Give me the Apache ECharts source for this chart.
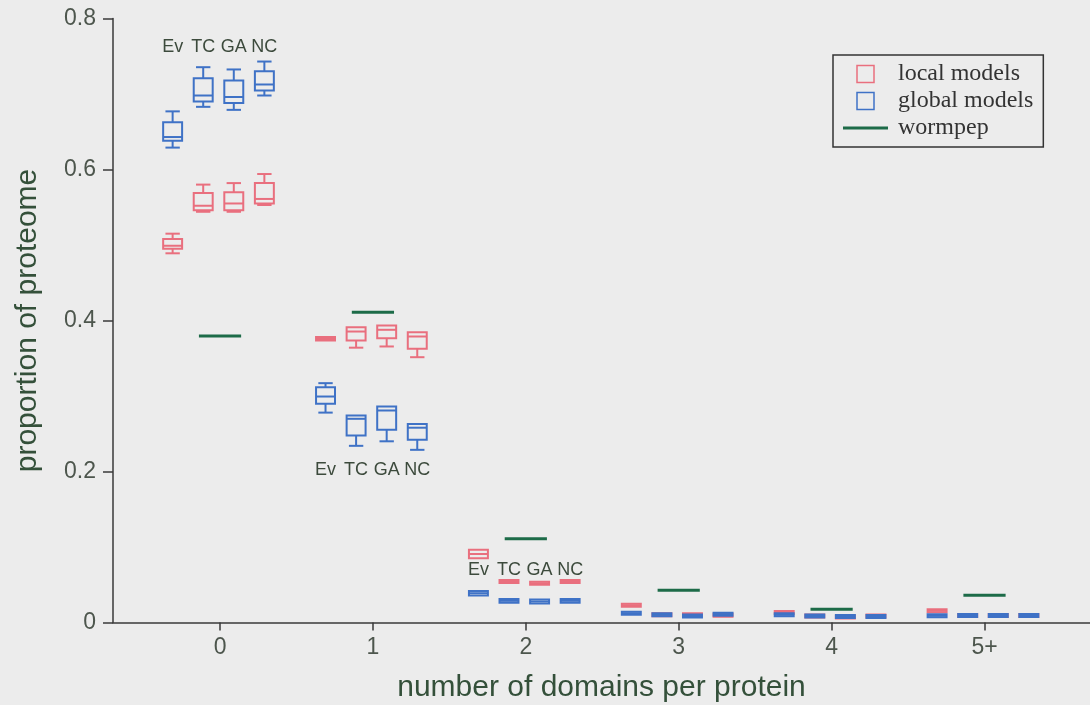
<!DOCTYPE html>
<html>
<head>
<meta charset="utf-8">
<script src="https://cdn.jsdelivr.net/npm/echarts@6/dist/echarts.min.js"></script>
<style>
html,body{margin:0;padding:0;background:#ececec;}
#chart{width:1090px;height:705px;}
</style>
</head>
<body>
<div id="chart"></div>
<script>
// ---------------- data ----------------
const categories = ['0', '1', '2', '3', '4', '5+'];
const models = ['Ev', 'TC', 'GA', 'NC'];

// each entry: [low whisker, q1, median, q3, high whisker], one per category
const localEv = [[0.489,0.495,0.499,0.508,0.515],[0.3735,0.3735,0.3755,0.378,0.378],[0.0852,0.0852,0.0907,0.0963,0.0963],[0.0209,0.0209,0.0229,0.0249,0.0249],[0.0112,0.0112,0.0132,0.0152,0.0152],[0.0135,0.0135,0.0155,0.0175,0.0175]];
const localTC = [[0.544,0.546,0.552,0.569,0.580],[0.364,0.3735,0.3854,0.391,0.391],[0.0523,0.0523,0.0543,0.0563,0.0563],[0.0082,0.0082,0.0102,0.0122,0.0122],[0.0066,0.0066,0.0086,0.0106,0.0106],[0.0073,0.0073,0.0093,0.0113,0.0113]];
const localGA = [[0.544,0.546,0.555,0.570,0.582],[0.3656,0.3766,0.3877,0.3934,0.3934],[0.050,0.050,0.052,0.054,0.054],[0.0082,0.0082,0.0102,0.0122,0.0122],[0.0053,0.0053,0.0073,0.0093,0.0093],[0.0073,0.0073,0.0093,0.0113,0.0113]];
const localNC = [[0.553,0.555,0.561,0.582,0.594],[0.3514,0.3625,0.3788,0.3845,0.3845],[0.0523,0.0523,0.0543,0.0563,0.0563],[0.0077,0.0077,0.0097,0.0117,0.0117],[0.0066,0.0066,0.0086,0.0106,0.0106],[0.0073,0.0073,0.0093,0.0113,0.0113]];

const globalEv = [[0.629,0.638,0.643,0.6627,0.677],[0.278,0.2897,0.2993,0.3117,0.317],[0.0358,0.0358,0.0388,0.0418,0.0418],[0.0103,0.0103,0.0123,0.0143,0.0143],[0.0082,0.0082,0.0102,0.0122,0.0122],[0.0069,0.0069,0.0089,0.0109,0.0109]];
const globalTC = [[0.683,0.690,0.698,0.721,0.7355],[0.234,0.2477,0.2698,0.2742,0.2742],[0.0262,0.0262,0.0287,0.0312,0.0312],[0.0082,0.0082,0.0102,0.0122,0.0122],[0.0066,0.0066,0.0086,0.0106,0.0106],[0.0073,0.0073,0.0093,0.0113,0.0113]];
const globalGA = [[0.679,0.688,0.696,0.718,0.7325],[0.240,0.2552,0.2808,0.286,0.286],[0.0253,0.0253,0.0278,0.0303,0.0303],[0.0066,0.0066,0.0086,0.0106,0.0106],[0.006,0.006,0.008,0.010,0.010],[0.0073,0.0073,0.0093,0.0113,0.0113]];
const globalNC = [[0.698,0.7046,0.7126,0.730,0.743],[0.2287,0.242,0.258,0.263,0.263],[0.0262,0.0262,0.0287,0.0312,0.0312],[0.009,0.009,0.011,0.013,0.013],[0.006,0.006,0.008,0.010,0.010],[0.0073,0.0073,0.0093,0.0113,0.0113]];

const wormpep = [0.3795, 0.411, 0.111, 0.0428, 0.0176, 0.0362];

// model labels are printed over/under these categories at these heights
const labelCategories = [0, 1, 2];
const labelHeights = [0.762, 0.202, 0.0695];

// ---------------- layout / style ----------------
const RED = '#e96f7e';
const BLUE = '#3f72c6';
const GREEN = '#1d6b48';
const OFFSETS = [-0.31, -0.11, 0.09, 0.29];
const BOX_HALF = 0.062;
const CAP_HALF = 0.047;
const WORM_HALF = 0.138;

function boxData(sets) {
  const out = [];
  sets.forEach((set, m) => {
    set.forEach((v, g) => out.push([g + OFFSETS[m], g, m, v[0], v[1], v[2], v[3], v[4]]));
  });
  return out;
}

function boxRender(color) {
  return function (params, api) {
    const x = api.value(0);
    const lo = api.value(3), q1 = api.value(4), md = api.value(5), q3 = api.value(6), hi = api.value(7);
    const tl = api.coord([x - BOX_HALF, q3]);
    const br = api.coord([x + BOX_HALF, q1]);
    const st = { stroke: color, lineWidth: 2, fill: null };
    const children = [
      { type: 'rect', shape: { x: tl[0], y: tl[1], width: br[0] - tl[0], height: Math.max(br[1] - tl[1], 1) }, style: st }
    ];
    const m1 = api.coord([x - BOX_HALF, md]), m2 = api.coord([x + BOX_HALF, md]);
    children.push({ type: 'line', shape: { x1: m1[0], y1: m1[1], x2: m2[0], y2: m2[1] }, style: st });
    if (hi > q3) {
      const a = api.coord([x, q3]), b = api.coord([x, hi]);
      const c1 = api.coord([x - CAP_HALF, hi]), c2 = api.coord([x + CAP_HALF, hi]);
      children.push({ type: 'line', shape: { x1: a[0], y1: a[1], x2: b[0], y2: b[1] }, style: st });
      children.push({ type: 'line', shape: { x1: c1[0], y1: c1[1], x2: c2[0], y2: c2[1] }, style: st });
    }
    if (lo < q1) {
      const a = api.coord([x, q1]), b = api.coord([x, lo]);
      const c1 = api.coord([x - CAP_HALF, lo]), c2 = api.coord([x + CAP_HALF, lo]);
      children.push({ type: 'line', shape: { x1: a[0], y1: a[1], x2: b[0], y2: b[1] }, style: st });
      children.push({ type: 'line', shape: { x1: c1[0], y1: c1[1], x2: c2[0], y2: c2[1] }, style: st });
    }
    return { type: 'group', children: children };
  };
}

const wormData = wormpep.map((v, g) => [g, v]);
const labelData = [];
labelCategories.forEach((g, i) => models.forEach((name, m) => labelData.push([g + OFFSETS[m], labelHeights[i], m])));

const AXIS_COLOR = '#3a3a3a';
const option = {
  backgroundColor: '#ececec',
  animation: false,
  grid: { left: 113, right: 0, top: 18.5, bottom: 82.5, containLabel: false, outerBoundsMode: 'none' },
  xAxis: {
    type: 'value', min: -0.7, max: 5.69,
    splitLine: { show: false },
    axisLine: { onZero: false, lineStyle: { color: AXIS_COLOR, width: 1.5 } },
    axisTick: { customValues: [0, 1, 2, 3, 4, 5], length: 8, lineStyle: { color: AXIS_COLOR, width: 1.5 } },
    axisLabel: { customValues: [0, 1, 2, 3, 4, 5], formatter: v => categories[Math.round(v)], fontSize: 23, color: '#4d564d', margin: 14, fontFamily: 'Liberation Sans' },
    name: 'number of domains per protein', nameLocation: 'middle', nameGap: 50,
    nameTextStyle: { fontSize: 30, color: '#34503a', fontFamily: 'Liberation Sans' }
  },
  yAxis: {
    type: 'value', min: 0, max: 0.8, interval: 0.2,
    splitLine: { show: false },
    axisLine: { show: true, onZero: false, lineStyle: { color: AXIS_COLOR, width: 1.5 } },
    axisTick: { show: true, length: 10, lineStyle: { color: AXIS_COLOR, width: 1.5 } },
    axisLabel: { formatter: v => (v === 0 ? '0' : v.toFixed(1)), fontSize: 23, color: '#4d564d', margin: 17, fontFamily: 'Liberation Sans' },
    name: 'proportion of proteome', nameLocation: 'middle', nameGap: 70,
    nameTextStyle: { fontSize: 30, color: '#34503a', fontFamily: 'Liberation Sans' }
  },
  legend: {
    orient: 'vertical', left: 833, top: 55,
    padding: [7, 10, 7, 10], itemGap: 3, itemWidth: 45, itemHeight: 17,
    borderColor: '#333', borderWidth: 1.5,
    selectedMode: false,
    textStyle: { fontFamily: 'Liberation Serif', fontSize: 24, color: '#333', padding: [0, 0, 0, 5] },
    data: [
      { name: 'local models', icon: 'path://M0,0H10V10H0Z', itemStyle: { color: 'rgba(0,0,0,0)', borderColor: RED, borderWidth: 1.5 } },
      { name: 'global models', icon: 'path://M0,0H10V10H0Z', itemStyle: { color: 'rgba(0,0,0,0)', borderColor: BLUE, borderWidth: 1.5 } },
      { name: 'wormpep', icon: 'path://M0,0H45V3H0Z', itemStyle: { color: GREEN, borderWidth: 0 } }
    ]
  },
  series: [
    {
      name: 'local models', type: 'custom', clip: false,
      data: boxData([localEv, localTC, localGA, localNC]),
      encode: { x: 0, y: [3, 7] },
      itemStyle: { color: RED },
      renderItem: boxRender(RED)
    },
    {
      name: 'global models', type: 'custom', clip: false,
      data: boxData([globalEv, globalTC, globalGA, globalNC]),
      encode: { x: 0, y: [3, 7] },
      itemStyle: { color: BLUE },
      renderItem: boxRender(BLUE)
    },
    {
      name: 'wormpep', type: 'custom', clip: false,
      data: wormData,
      encode: { x: 0, y: 1 },
      itemStyle: { color: GREEN },
      renderItem: function (params, api) {
        const a = api.coord([api.value(0) - WORM_HALF, api.value(1)]);
        const b = api.coord([api.value(0) + WORM_HALF, api.value(1)]);
        return { type: 'line', shape: { x1: a[0], y1: a[1], x2: b[0], y2: b[1] }, style: { stroke: GREEN, lineWidth: 3 } };
      }
    },
    {
      name: 'model labels', type: 'custom', clip: false, silent: true,
      data: labelData,
      encode: { x: 0, y: 1 },
      renderItem: function (params, api) {
        const p = api.coord([api.value(0), api.value(1)]);
        return { type: 'text', x: p[0], y: p[1], style: { text: models[api.value(2)], align: 'center', verticalAlign: 'middle', font: '18px "Liberation Sans"', fill: '#3c4a3c' } };
      }
    }
  ]
};

const chart = echarts.init(document.getElementById('chart'), null, { renderer: 'canvas' });
chart.setOption(option);
</script>
</body>
</html>
